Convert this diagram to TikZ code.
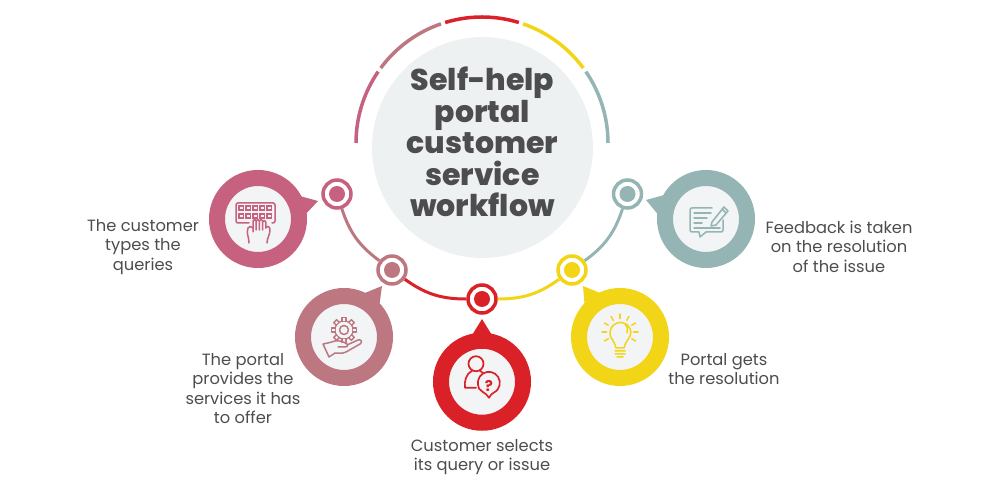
\documentclass[tikz,border=0pt]{standalone}
\usepackage{fontspec}
\setmainfont{Poppins}
\newfontfamily\titlefont{Poppins}[UprightFont=* ExtraBold]
\usetikzlibrary{positioning}
\definecolor{pinkc}{HTML}{C6617F}
\definecolor{mauvec}{HTML}{BC7780}
\definecolor{redc}{HTML}{DA2128}
\definecolor{yellowc}{HTML}{F2D517}
\definecolor{tealc}{HTML}{95B5B5}
\definecolor{hubc}{HTML}{EEF1F2}
\definecolor{innerc}{HTML}{F2F4F5}
\definecolor{textc}{HTML}{4D4D4F}

\begin{document}
\begin{tikzpicture}[
  x=1pt, y=1pt,
  ringnode/.style={circle, draw=#1, line width=3.5pt, fill=white, minimum size=28pt, inner sep=0pt,
    path picture={\fill[#1] (path picture bounding box.center) circle (8pt);}},
  bubblenode/.style={circle, draw=#1, line width=16pt, fill=innerc, minimum size=82pt, inner sep=0pt},
  labelnode/.style={text=textc, font=\fontsize{16.3}{19.4}\selectfont, align=center, inner sep=0pt},
  topline/.style={line width=3.5pt},
  linkline/.style={line width=3pt},
  iconline/.style={draw=#1, line width=1.5pt, line cap=round, line join=round}
]
\useasboundingbox (0,0) rectangle (1000,500);

%Hub
\node[circle, fill=hubc, minimum size=221pt, inner sep=0pt] (hub) at (482.5,352.5) {};
\node[text=textc, font=\fontsize{30}{31.5}\selectfont\titlefont, align=center, inner sep=0pt] (title) at (482.5,358)
  {Self-help\\portal\\customer\\service\\workflow};

%Top arcs
\draw[topline, pinkc] (356,357) arc[start angle=180, end angle=145.5, radius=126];
\draw[topline, mauvec] (482,357) ++(143.5:126) arc[start angle=143.5, end angle=109, radius=126];
\draw[topline, redc] (482,357) ++(107:126) arc[start angle=107, end angle=73, radius=126];
\draw[topline, yellowc] (482,357) ++(71:126) arc[start angle=71, end angle=36.5, radius=126];
\draw[topline, tealc] (482,357) ++(34.5:126) arc[start angle=34.5, end angle=0, radius=126];

%Ring nodes
\node[ringnode=pinkc] (ring1) at (337,306) {};
\node[ringnode=mauvec] (ring2) at (392,230) {};
\node[ringnode=redc] (ring3) at (482,201) {};
\node[ringnode=yellowc] (ring4) at (572,230) {};
\node[ringnode=tealc] (ring5) at (627.5,306) {};

%Links
\draw[linkline, mauvec] (ring1) to[bend right=17.7] (ring2);
\draw[linkline, redc] (ring2) to[bend right=17.9] (ring3);
\draw[linkline, yellowc] (ring3) to[bend right=17.9] (ring4);
\draw[linkline, tealc] (ring4) to[bend right=17.7] (ring5);

%Pointers
\fill[pinkc] (318,299) -- (296,305) -- (303,283) -- cycle;
\fill[mauvec] (382,214) -- (360,205) -- (379,192) -- cycle;
\fill[redc] (482,181) -- (469,160) -- (495,160) -- cycle;
\fill[yellowc] (583,214) -- (605,205) -- (585,190) -- cycle;
\fill[tealc] (646,300) -- (668,306) -- (660,283) -- cycle;

%Bubbles
\node[bubblenode=pinkc] (bubble1) at (258,281) {};
\node[bubblenode=mauvec] (bubble2) at (344,163) {};
\node[bubblenode=redc, below=18pt of ring3] (bubble3) {};
\node[bubblenode=yellowc] (bubble4) at (620,163) {};
\node[bubblenode=tealc] (bubble5) at (706,281) {};

%Labels
\node[labelnode] (label1) at (143,253) {The customer\\types the\\queries};
\node[labelnode] (label2) at (243,111.5) {The portal\\provides the\\services it has\\to offer};
\node[labelnode, below=8pt of bubble3] (label3) {Customer selects\\its query or issue};
\node[labelnode] (label4) at (724,131) {Portal gets\\the resolution};
\node[labelnode] (label5) at (839,253.5) {Feedback is taken\\on the resolution\\of the issue};

%Keyboard icon
\begin{scope}[shift={(bubble1.center)}]
\draw[iconline=pinkc] (-9,-4) -- (-20,-4) arc[start angle=270, end angle=180, radius=2] -- (-22,14) arc[start angle=180, end angle=90, radius=2] -- (15,16) arc[start angle=90, end angle=0, radius=2] -- (17,-2) arc[start angle=0, end angle=-90, radius=2] -- (14,-4);
\foreach \x in {-19,-12,-5,2,9}
  \foreach \y in {9,1}
    \draw[pinkc, line width=1.2pt] (\x,\y) rectangle ++(4.5,4);
\draw[iconline=pinkc] (-9,-24) .. controls (-9,-17) and (-12,-15) .. (-10,-9) .. controls (-9,-7) and (-7,-7) .. (-5,-9)
  (-5,-13) -- (-5,-2) arc[start angle=180, end angle=0, radius=1.6] -- (-1.8,-11)
  (-1.8,-2) arc[start angle=180, end angle=0, radius=1.6] -- (1.4,-11)
  (1.4,-2) arc[start angle=180, end angle=0, radius=1.6] -- (4.6,-11)
  (4.6,-3) arc[start angle=180, end angle=0, radius=1.6] -- (7.8,-9) .. controls (10,-6) and (12,-8) .. (12,-11) .. controls (12,-16) and (9,-19) .. (9,-24);
\end{scope}

%Gear and hand icon
\begin{scope}[shift={(bubble2.center)}]
\draw[iconline=mauvec] (0,7) circle (9);
\foreach \a in {0,45,...,315}
  \draw[iconline=mauvec, fill=innerc, rotate around={\a:(0,7)}] (-2,15.5) rectangle (2,19.5);
\fill[innerc] (0,7) circle (8.2);
\draw[iconline=mauvec] (0,7) circle (4.5);
\draw[iconline=mauvec] (-21,-7) .. controls (-16,-6) and (-12,-5) .. (-9,-4) .. controls (-5,-3) and (0,-5) .. (3,-7) .. controls (5,-9) and (3,-10) .. (1,-10) -- (-6,-10)
  (3,-8) -- (14,-3) .. controls (17,-2) and (19,-5) .. (16,-7) -- (2,-15) .. controls (-2,-17) and (-6,-16) .. (-9,-16) -- (-15,-20) -- (-21,-7);
\end{scope}

%Person and question icon
\begin{scope}[shift={(bubble3.center)}]
\draw[iconline=redc, line width=1.7pt] (-6,18) circle (7.5);
\draw[iconline=redc, line width=1.7pt] (-6,-6) -- (-17,-6) .. controls (-18,0) and (-16,8) .. (-10,11)
  (-2,11) .. controls (1,9) and (3,7) .. (3,4);
\draw[iconline=redc, line width=1.7pt, fill=innerc] (7,-16) .. controls (5,-11) and (-5,-9) .. (-4,-3) arc[start angle=190, end angle=-35, radius=11] .. controls (15,-10) and (9,-11) .. (7,-16) -- cycle;
\node[text=redc, font=\fontsize{15}{15}\selectfont\bfseries, inner sep=0pt] (askmark) at (7,-4) {?};
\end{scope}

%Bulb icon
\begin{scope}[shift={(bubble4.center)}]
\draw[iconline=yellowc] (-4,-11) .. controls (-5,-4) and (-11,-1) .. (-10,5) arc[start angle=175, end angle=5, radius=10.5] .. controls (11,-1) and (5,-4) .. (4,-11) -- cycle;
\draw[iconline=yellowc] (-5,-14) -- (5,-14) (-5,-17) -- (5,-17) (-3,-20) -- (3,-20) (5,13) .. controls (7,11) and (8,9) .. (7,4);
\foreach \a in {0,30,...,180}
  \draw[iconline=yellowc] (0,5) ++(\a:13.5) -- ++(\a:4.5);
\foreach \a in {-30,210}
  \draw[iconline=yellowc] (0,5) ++(\a:13.5) -- ++(\a:4.5);
\end{scope}

%Feedback icon
\begin{scope}[shift={(bubble5.center)}]
\draw[iconline=tealc] (6,11) -- (-14,11) arc[start angle=90, end angle=180, radius=2] -- (-16,-11) arc[start angle=180, end angle=270, radius=2] -- (-7,-13) -- (-6,-18) -- (0,-13) -- (15,-13) arc[start angle=-90, end angle=0, radius=2] -- (17,-1);
\draw[iconline=tealc] (-12,6) -- (5,6) (-12,1) -- (1,1) (-12,-4) -- (-4,-4) (-12,-9) -- (14,-9);
\draw[iconline=tealc] (6,-3) -- (18,12) -- (22,8) -- (10,-6) -- (5,-7) -- cycle (16,10) -- (20,6);
\end{scope}
\end{tikzpicture}
\end{document}
